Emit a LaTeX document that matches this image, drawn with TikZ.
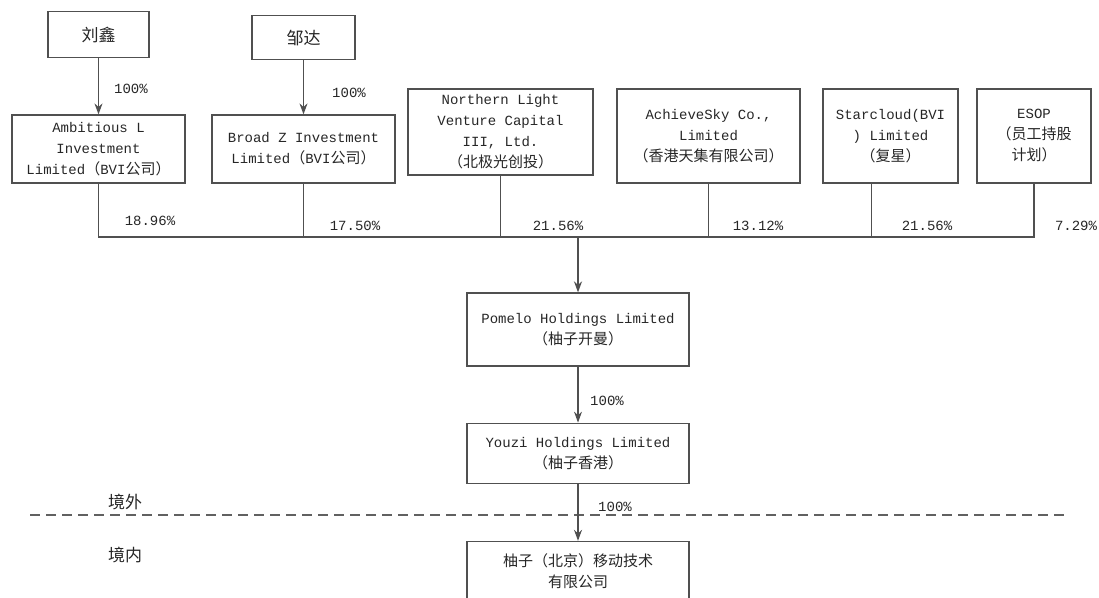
\documentclass[tikz,border=0pt]{standalone}
\usepackage{fontspec}
\setmainfont{Liberation Mono}
\newfontfamily\cjk{Noto Sans CJK SC}
\newcommand{\zh}[1]{{\cjk\fontsize{15}{21}\selectfont #1}}
\newcommand{\zhbig}[1]{{\cjk\fontsize{17}{21}\selectfont #1}}
\usetikzlibrary{positioning,arrows.meta}
\definecolor{linegray}{HTML}{505050}
\definecolor{textgray}{HTML}{262626}

\begin{document}
\begin{tikzpicture}[x=1pt,y=-1pt,node distance=56pt,>={Stealth[length=11pt,width=8pt]}]
    \tikzstyle{company} = [rectangle, draw=linegray, line width=1.2pt, text=textgray, align=center, inner sep=2pt, font=\fontsize{14}{21}\selectfont]
    \tikzstyle{pct} = [text=textgray, inner sep=0pt, font=\fontsize{14}{16}\selectfont]
    \tikzstyle{link} = [line width=1.2pt, draw=linegray]
    \tikzstyle{arrow} = [link, ->]
    \tikzstyle{border} = [line width=2.5pt, draw=linegray!90, dash pattern=on 10pt off 6pt]

    \useasboundingbox (0,0) rectangle (1099,597);

    % shareholders
    \node (amb) [company, minimum width=173pt, minimum height=68pt] at (98.5,149) {Ambitious L\\Investment\\Limited\zh{（}BVI\zh{公司）}};
    \node (brd) [company, minimum width=183pt, minimum height=68pt] at (303.5,149) {Broad Z Investment\\Limited\zh{（}BVI\zh{公司）}};
    \node (liu) [company, minimum width=101pt, minimum height=46pt, above=of amb] {\zhbig{刘鑫}};
    \node (zou) [company, minimum width=103pt, minimum height=44pt, above=54pt of brd] {\zhbig{邹达}};
    \node (nl) [company, minimum width=185pt, minimum height=86pt] at (500.5,132) {Northern Light\\Venture Capital\\III, Ltd.\\\zh{（北极光创投）}};
    \node (ach) [company, minimum width=183pt, minimum height=94pt] at (708.5,136) {AchieveSky Co.,\\Limited\\\zh{（香港天集有限公司）}};
    \node (star) [company, minimum width=135pt, minimum height=94pt] at (890.5,136) {Starcloud(BVI\\) Limited\\\zh{（复星）}};
    \node (esop) [company, minimum width=114pt, minimum height=94pt] at (1034,136) {ESOP\\\zh{（员工持股}\\\zh{计划）}};

    % group companies
    \node (pom) [company, minimum width=222pt, minimum height=73pt] at (578,329.5) {Pomelo Holdings Limited\\\zh{（柚子开曼）}};
    \node (youzi) [company, minimum width=222pt, minimum height=60pt, below=of pom] {Youzi Holdings Limited\\\zh{（柚子香港）}};
    \node (bj) [company, minimum width=222pt, minimum height=60pt, below=57pt of youzi] {\zh{柚子（北京）移动技术}\\\zh{有限公司}};

    \coordinate (bus) at (578,237);
    \coordinate (cutL) at (30,515);
    \coordinate (cutR) at (1068,515);

    \draw [border] (cutL) -- (cutR);
    \node (out) [text=textgray] at (125,502) {\zhbig{境外}};
    \node (in) [text=textgray] at (125,555) {\zhbig{境内}};

    \draw [arrow] (liu) -- (amb);
    \draw [arrow] (zou) -- (brd);
    \draw [link] (amb.south) -- (amb.south |- bus) -- (esop.south |- bus) -- (esop.south);
    \draw [link] (brd.south) -- (brd.south |- bus);
    \draw [link] (nl.south) -- (nl.south |- bus);
    \draw [link] (ach.south) -- (ach.south |- bus);
    \draw [link] ([xshift=-19pt]star.south) -- ([xshift=-19pt]star.south |- bus);
    \draw [arrow, line width=2pt] (bus) -- (pom);
    \draw [arrow] (pom) -- (youzi);
    \draw [arrow] (youzi) -- (bj);

    % shares
    \node (s1) [pct] at (131,89) {100\%};
    \node (s2) [pct] at (349,93) {100\%};
    \node (s3) [pct] at (150,221) {18.96\%};
    \node (s4) [pct] at (355,226) {17.50\%};
    \node (s5) [pct] at (558,226) {21.56\%};
    \node (s6) [pct] at (758,226) {13.12\%};
    \node (s7) [pct] at (927,226) {21.56\%};
    \node (s8) [pct] at (1076,226) {7.29\%};
    \node (s9) [pct] at (607,401) {100\%};
    \node (s10) [pct] at (615,507) {100\%};

\end{tikzpicture}
\end{document}
